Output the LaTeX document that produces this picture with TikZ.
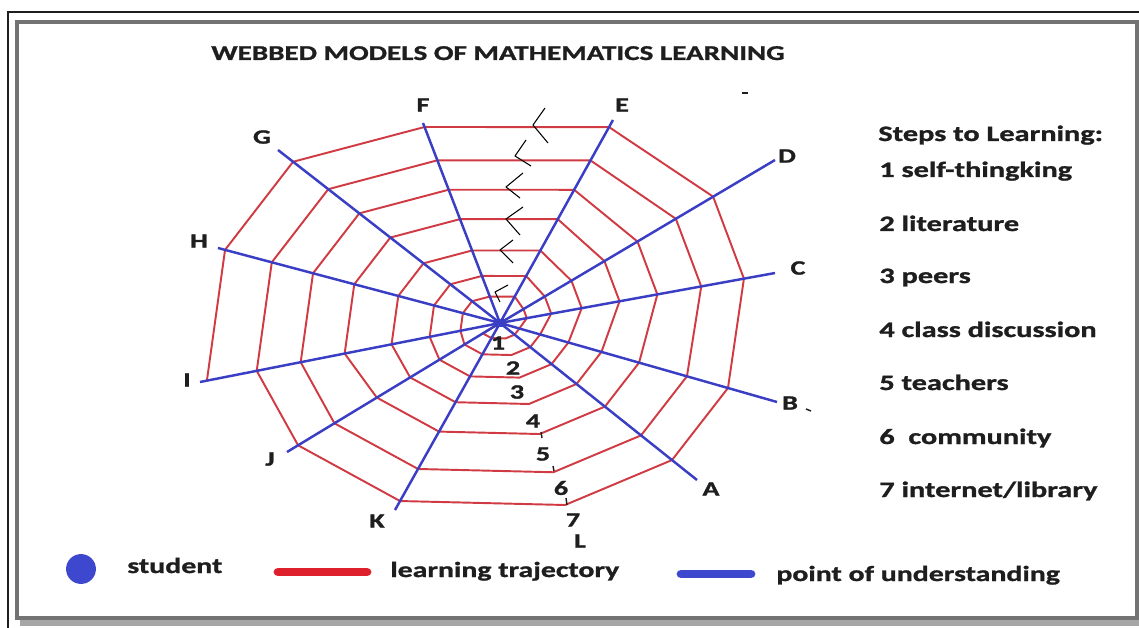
\documentclass[tikz,border=0pt]{standalone}
\usepackage{fontspec}
\setmainfont{Carlito}[FakeStretch=1.38, BoldFeatures={FakeBold=1.2}]
\usetikzlibrary{calc}
\definecolor{webred}{RGB}{208,58,66}
\definecolor{webblue}{RGB}{58,62,196}
\definecolor{legred}{RGB}{222,32,44}
\definecolor{legblue}{RGB}{62,72,206}
\definecolor{framegray}{RGB}{115,115,115}
\definecolor{inkgray}{RGB}{30,30,30}
\tikzset{
  ring/.style={webred, line width=1.1pt, line join=round},
  spoke/.style={webblue, line width=1.4pt},
  spokelabel/.style={font=\fontsize{11.6}{13}\selectfont\bfseries, text=inkgray, inner sep=0pt},
  steptext/.style={font=\fontsize{12.5}{14}\selectfont\bfseries, text=inkgray, anchor=base west, inner sep=0pt},
  legendtext/.style={font=\fontsize{12.3}{14}\selectfont\bfseries, text=inkgray, anchor=base west, inner sep=0pt},
  zigmark/.style={black, line width=0.6pt, line join=round},
  stray/.style={inkgray, line width=0.8pt},
  swatch/.style={line width=5pt, line cap=round}
}
\begin{document}
\begin{tikzpicture}[x=0.02cm, y=-0.02cm]
\useasboundingbox (0,0) rectangle (1139,628);
% frame
\fill[white] (0,0) rectangle (1139,628);
\fill[black!35] (20,619) rectangle (1139,626);
\draw[inkgray, line width=1.2pt] (8,628) -- (8,12) -- (1139,12);
\draw[framegray, line width=1.9pt] (17,22) rectangle (1137,618);
% title
\node[font=\fontsize{12}{14}\selectfont\bfseries, text=inkgray, anchor=base, inner sep=0pt] (title) at (498,60) {WEBBED MODELS OF MATHEMATICS LEARNING};
% centre and spoke ends
\coordinate (o) at (500,323);
\coordinate (eA) at (697,480);
\coordinate (eB) at (777,402);
\coordinate (eC) at (775,273);
\coordinate (eD) at (775,160);
\coordinate (eE) at (613,120);
\coordinate (eF) at (423,123);
\coordinate (eG) at (278,150);
\coordinate (eH) at (218,248);
\coordinate (eI) at (200,382);
\coordinate (eJ) at (287,452);
\coordinate (eK) at (395,510);
% outer vertices of the trajectory
\coordinate (vA) at ($(o)!.873!(eA)$);
\coordinate (vB) at ($(o)!.823!(eB)$);
\coordinate (vC) at ($(o)!.887!(eC)$);
\coordinate (vD) at ($(o)!.775!(eD)$);
\coordinate (vE) at ($(o)!.965!(eE)$);
\coordinate (vF) at ($(o)!.98!(eF)$);
\coordinate (vG) at ($(o)!.932!(eG)$);
\coordinate (vH) at ($(o)!.975!(eH)$);
\coordinate (vI) at ($(o)!.977!(eI)$);
\coordinate (vJ) at ($(o)!.948!(eJ)$);
\coordinate (vK) at ($(o)!.952!(eK)$);
\coordinate (vL) at (565,505);
% learning trajectory (spiral)
\draw[ring] (o)
  \foreach \b/\m/\t in {.085/.11/.135, .176/.21/.24, .30/.335/.37, .445/.49/.53, .61/.645/.68, .82/.825/.83, 1/1/1} {
    -- ($(o)!\b!(vJ)$) -- ($(o)!\b!(vK)$) -- ($(o)!\b!(vL)$) -- ($(o)!\b!(vA)$) -- ($(o)!\b!(vB)$)
    -- ($(o)!\m!(vC)$) -- ($(o)!\m!(vD)$)
    -- ($(o)!\t!(vE)$) -- ($(o)!\t!(vF)$) -- ($(o)!\t!(vG)$) -- ($(o)!\t!(vH)$) -- ($(o)!\t!(vI)$)
  };
% points of understanding
\foreach \s in {A,B,C,D,E,F,G,H,I,J,K} \draw[spoke] (o) -- (e\s);
% student
\node[fill=webblue, inner sep=0pt, minimum width=7.5pt, minimum height=4.5pt, rounded corners=1.5pt] (O) at (o) {};
% spoke labels
\node[spokelabel] (lA) at (711,489) {A};
\node[spokelabel] (lB) at (790,403) {B};
\node[spokelabel] (lC) at (798,268) {C};
\node[spokelabel] (lD) at (787,156) {D};
\node[spokelabel] (lE) at (622,105) {E};
\node[spokelabel] (lF) at (423,105) {F};
\node[spokelabel] (lG) at (262,137) {G};
\node[spokelabel] (lH) at (199,241) {H};
\node[spokelabel] (lI) at (187,380) {I};
\node[spokelabel] (lJ) at (270,459) {J};
\node[spokelabel] (lK) at (377,521) {K};
\node[spokelabel] (lL) at (580,541) {L};
% step numbers
\node[spokelabel] (n1) at (498,343) {1};
\node[spokelabel] (n2) at (513,368) {2};
\node[spokelabel] (n3) at (517,392) {3};
\node[spokelabel] (n4) at (533,421) {4};
\node[spokelabel] (n5) at (543,454) {5};
\node[spokelabel] (n6) at (561,488) {6};
\node[spokelabel] (n7) at (573,520) {7};
% zigzag marks
\draw[zigmark] (545,108) -- (533,125) -- (548,143);
\draw[zigmark] (526,140) -- (515,156) -- (531,166);
\draw[zigmark] (523,173) -- (506,187) -- (520,198);
\draw[zigmark] (523,207) -- (506,219) -- (520,235);
\draw[zigmark] (513,240) -- (500,250) -- (513,263);
\draw[zigmark] (508,285) -- (495,292) -- (500,302);
% stray marks
\draw[stray] (742,93) -- (748,93);
\draw[stray] (806,409) -- (811,411);
\draw[stray] (541,432) -- (542,438);
\draw[stray] (553,466) -- (554,471);
\draw[stray] (566,498) -- (567,505);
% steps to learning
\node[steptext] (st0) at (878,141) {Steps to Learning:};
\node[steptext] (st1) at (879,177) {1 self-thingking};
\node[steptext] (st2) at (879,231) {2 literature};
\node[steptext] (st3) at (879,283) {3 peers};
\node[steptext] (st4) at (879,337) {4 class discussion};
\node[steptext] (st5) at (879,390) {5 teachers};
\node[steptext] (st6) at (879,444) {6\ \ community};
\node[steptext] (st7) at (879,497) {7 internet/library};
% legend
\node[circle, fill=legblue, inner sep=0pt, minimum size=17pt] (legdot) at (81,569) {};
\node[legendtext] (legstudent) at (127,573) {student};
\draw[swatch, legred] (278,572) -- (367,572);
\node[legendtext] (legtraj) at (390,577) {learning trajectory};
\draw[swatch, legblue] (681,574) -- (751,574);
\node[legendtext] (legpoint) at (776,581) {point of understanding};
\end{tikzpicture}
\end{document}
